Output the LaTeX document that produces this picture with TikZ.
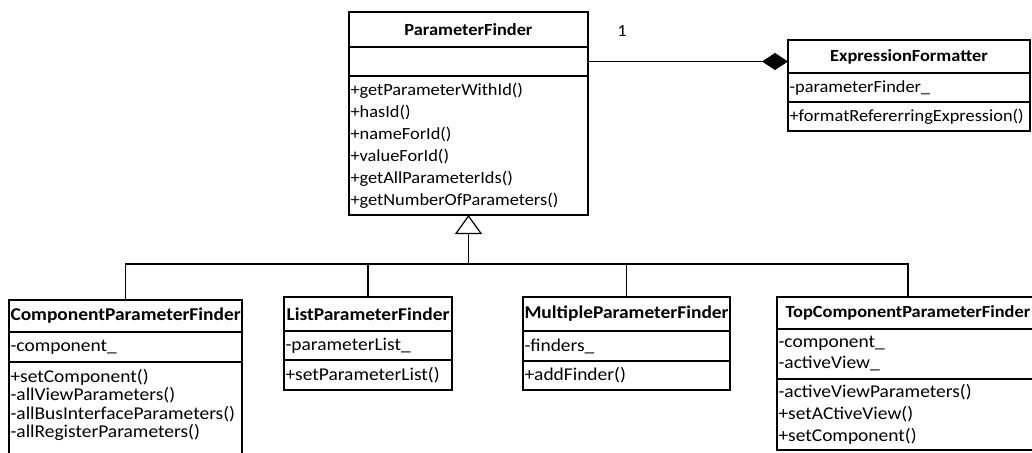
\documentclass[tikz,border=0pt]{standalone}
\usepackage{fontspec}
\setmainfont{Carlito}[FakeStretch=1.08]
\usetikzlibrary{arrows.meta,positioning}

\tikzset{
  umlbox/.style={draw=black,line width=1.2pt,fill=white,text width=#1,inner xsep=1.5pt,inner ysep=0pt,
    outer sep=0pt,align=left,font=\fontsize{17}{19}\selectfont},
  umlname/.style={umlbox=#1,align=center,font=\fontsize{17}{19}\selectfont\bfseries},
  subbox/.style={umlbox=#1,font=\fontsize{18}{19}\selectfont},
  subname/.style={umlname=#1,font=\fontsize{18}{19}\selectfont\bfseries},
  umlline/.style={draw=black,line width=1.2pt},
  genarrow/.style={umlline,-{Triangle[open,length=19pt,width=27pt]}},
  comparrow/.style={umlline,-{Diamond[length=26pt,width=17pt]}}
}

\begin{document}
\begin{tikzpicture}[x=1pt,y=-1pt]
  \clip (0,0) rectangle (1032,452);
  \useasboundingbox (0,0) rectangle (1032,452);
  % base class
  \node[umlname=236pt,minimum height=35pt,anchor=north west] (pf) at (349,12) {ParameterFinder};
  \node[umlbox=236pt,minimum height=29pt,below=0pt of pf] (pfattr) {};
  \node[umlbox=236pt,minimum height=139pt,below=0pt of pfattr,font=\fontsize{17}{22}\selectfont] (pfops)
    {+getParameterWithId()\\+hasId()\\+nameForId()\\+valueForId()\\+getAllParameterIds()\\+getNumberOfParameters()};
  % formatter
  \node[umlname=239pt,minimum height=33pt,anchor=north west] (ef) at (788,40) {ExpressionFormatter};
  \node[umlbox=239pt,minimum height=29pt,below=0pt of ef] (efattr) {-parameterFinder\_};
  \node[umlbox=239pt,minimum height=29pt,below=0pt of efattr] (efops) {+formatRefererringExpression()};
  \draw[comparrow] (pfattr.east) -- (pfattr.east -| ef.west);
  \node[font=\fontsize{17}{19}\selectfont] (mult) at (622,31) {1};
  % derived classes
  \node[subname=230pt,minimum height=32pt,anchor=north west] (cpf) at (9,300) {ComponentParameterFinder};
  \node[subbox=230pt,minimum height=30pt,below=0pt of cpf] (cpfattr) {-component\_};
  \node[subbox=230pt,inner ysep=7pt,below=0pt of cpfattr,font=\fontsize{18}{18.5}\selectfont] (cpfops)
    {+setComponent()\\-allViewParameters()\\-allBusInterfaceParameters()\\-allRegisterParameters()\rule[-40pt]{0pt}{40pt}};
  \node[subname=165pt,minimum height=34pt,anchor=north west] (lpf) at (284,297) {ListParameterFinder};
  \node[subbox=165pt,minimum height=29pt,below=0pt of lpf] (lpfattr) {-parameterList\_};
  \node[subbox=165pt,minimum height=30pt,below=0pt of lpfattr] (lpfops) {+setParameterList()};
  \node[subname=204pt,minimum height=34pt,anchor=north west] (mpf) at (523,297) {MultipleParameterFinder};
  \node[subbox=204pt,minimum height=30pt,below=0pt of mpf] (mpfattr) {-finders\_};
  \node[subbox=204pt,minimum height=29pt,below=0pt of mpfattr] (mpfops) {+addFinder()};
  \node[subname=259pt,minimum height=32pt,anchor=north west,font=\fontsize{17}{19}\selectfont\bfseries] (tcpf)
    at (777,297) {TopComponentParameterFinder};
  \node[subbox=259pt,minimum height=50pt,below=0pt of tcpf,font=\fontsize{18}{21}\selectfont] (tcpfattr)
    {-component\_\\-activeView\_};
  \node[subbox=259pt,minimum height=71pt,below=0pt of tcpfattr,font=\fontsize{18}{22}\selectfont] (tcpfops)
    {-activeViewParameters()\\+setACtiveView()\\+setComponent()};
  % generalization
  \coordinate (bus) at (pfops.south |- 0,264);
  \draw[genarrow] (bus) -- (pfops.south);
  \draw[umlline] (bus) -| (cpf.north);
  \draw[umlline] (bus) -| (lpf.north);
  \draw[umlline] (bus) -| (mpf.north);
  \draw[umlline] (bus) -| (tcpf.north);
\end{tikzpicture}
\end{document}
